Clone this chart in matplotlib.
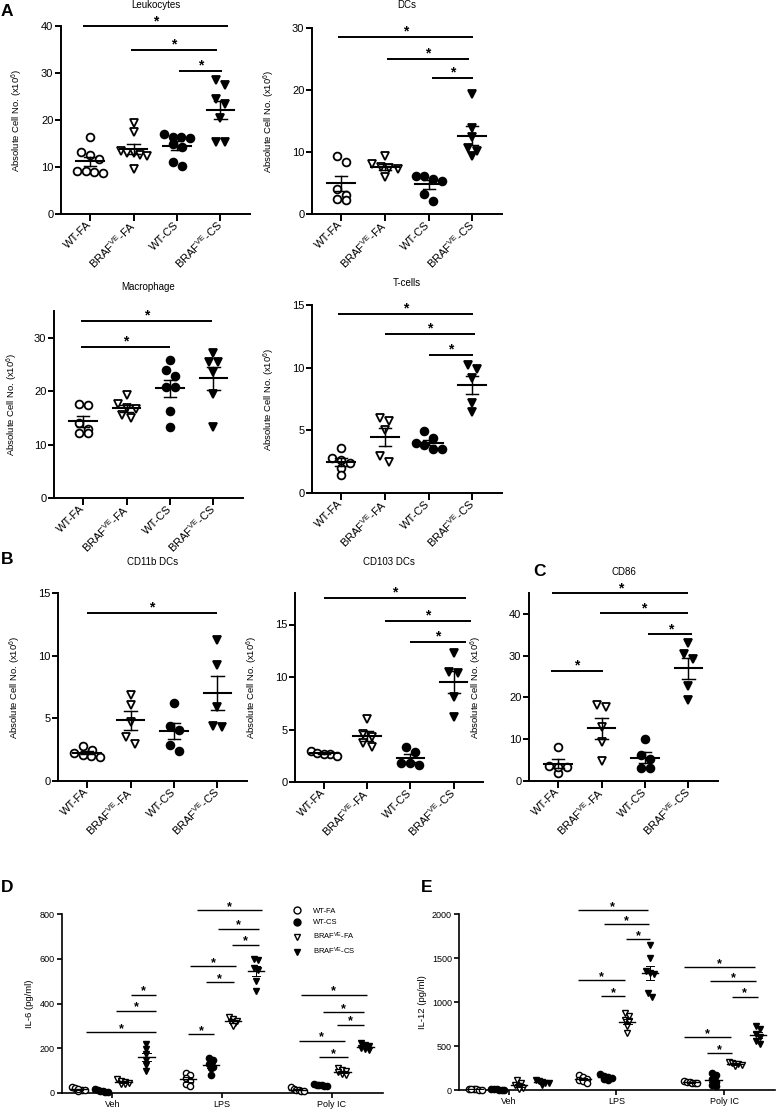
import numpy as np
import matplotlib
matplotlib.use('Agg')
import matplotlib.pyplot as plt
from matplotlib.lines import Line2D

plt.rcParams['font.family'] = ['Liberation Sans', 'DejaVu Sans']
plt.rcParams['mathtext.fontset'] = 'custom'
plt.rcParams['mathtext.rm'] = 'Liberation Sans'
plt.rcParams['mathtext.it'] = 'Liberation Sans:italic'
plt.rcParams['mathtext.bf'] = 'Liberation Sans:bold'

# ---- data (absolute cell numbers, x10^6) ----
# order: WT-FA, BRAF-FA, WT-CS, BRAF-CS
cell_groups = ['WT-FA', 'BRAF$^{\\mathrm{VE}}$-FA', 'WT-CS', 'BRAF$^{\\mathrm{VE}}$-CS']

leukocytes = [[16.3, 13.2, 12.5, 11.8, 9.2, 9.0, 9.2, 8.7],
              [19.4, 17.4, 13.3, 13.0, 12.9, 12.6, 12.4, 9.5],
              [17.0, 16.1, 16.3, 16.3, 15.0, 14.3, 11.1, 10.3],
              [28.5, 27.4, 24.4, 23.3, 20.4, 15.4, 15.4]]
dcs = [[9.3, 8.4, 4.1, 3.1, 2.3, 2.4],
       [9.4, 8.0, 7.6, 7.5, 7.2, 6.0],
       [6.2, 5.4, 5.7, 6.2, 3.2, 2.1],
       [19.3, 13.8, 12.5, 10.7, 9.4, 10.1]]
macrophage = [[17.4, 17.5, 14.0, 12.9, 12.1, 12.1],
              [19.3, 16.8, 16.6, 17.5, 15.6, 14.9],
              [25.8, 22.8, 24.0, 20.7, 20.7, 16.2, 13.3],
              [25.5, 27.2, 25.5, 23.6, 19.4, 13.3]]
tcells = [[3.6, 2.8, 2.65, 2.4, 2.0, 1.4],
          [6.0, 5.75, 5.0, 2.5, 2.95],
          [4.95, 4.4, 4.0, 3.5, 3.5, 3.8],
          [10.2, 9.9, 9.2, 7.2, 6.5]]
cd11b = [[2.8, 2.5, 2.0, 2.1, 2.2, 1.95],
         [6.9, 6.1, 4.7, 2.95, 3.5],
         [6.2, 4.1, 4.4, 2.4, 2.9],
         [11.25, 9.25, 5.9, 4.3, 4.4]]
cd103 = [[2.65, 2.94, 2.7, 2.8, 2.5],
         [6.0, 4.3, 4.6, 3.3, 3.7],
         [3.3, 2.9, 1.65, 1.8, 1.8],
         [12.3, 10.4, 10.5, 8.1, 6.2]]
cd86 = [[8.25, 1.9, 3.65, 3.3, 3.3],
        [18.3, 17.8, 12.9, 9.4, 4.7],
        [10.1, 5.2, 6.3, 3.1, 3.1],
        [33.0, 29.3, 30.3, 22.7, 19.4]]

# significance bars: (x start, x end, height)
leuk_sig = [(-0.16, 3.17, 39.9), (0.94, 2.92, 35.0), (2.05, 3.03, 30.4)]
dcs_sig = [(-0.07, 3.02, 28.5), (1.04, 2.92, 25.0), (2.07, 3.02, 21.9)]
macro_sig = [(-0.05, 2.97, 33.1), (-0.05, 1.99, 28.3)]
tcells_sig = [(-0.07, 3.02, 14.3), (0.99, 3.07, 12.7), (2.0, 3.02, 11.0)]
cd11b_sig = [(0.0, 2.98, 13.4)]
cd103_sig = [(0.0, 3.28, 17.5), (1.41, 3.40, 15.3), (2.0, 3.28, 13.3)]
cd86_sig = [(-0.14, 3.0, 44.9), (0.96, 3.0, 40.1), (2.08, 3.09, 35.1), (-0.16, 1.03, 26.3)]

# ---- cytokines (pg/ml) ----
# order: WT-FA, WT-CS, BRAF-FA, BRAF-CS
cyto_groups = ['WT-FA', 'WT-CS', 'BRAF$^{\\mathrm{VE}}$-FA', 'BRAF$^{\\mathrm{VE}}$-CS']
conditions = ['Veh', 'LPS', 'Poly IC']

il6_veh = [[28, 22, 15, 12, 8, 18], [18, 12, 8, 5, 3, 10],
           [62, 55, 50, 45, 40, 38], [220, 198, 176, 149, 127, 100]]
il6_lps = [[90, 80, 68, 55, 40, 30], [155, 148, 130, 118, 110, 80],
           [338, 330, 322, 318, 312, 300], [600, 595, 560, 548, 500, 458]]
il6_polyic = [[25, 20, 15, 12, 10, 8], [38, 36, 35, 34, 33, 32],
              [110, 105, 98, 92, 85, 80], [225, 215, 208, 200, 195, 190]]

il12_veh = [[15, 10, 8, 5, 3, 12], [8, 6, 5, 4, 3, 7],
            [115, 80, 60, 40, 20, 10], [115, 105, 95, 85, 75, 60]]
il12_lps = [[175, 150, 130, 115, 100, 85], [180, 160, 145, 135, 125, 110],
            [870, 840, 800, 780, 730, 650], [1650, 1500, 1350, 1330, 1320, 1100, 1060]]
il12_polyic = [[100, 95, 90, 85, 80, 75], [190, 165, 120, 90, 60, 40],
               [320, 310, 300, 290, 280, 270], [725, 690, 640, 600, 560, 520]]

il6_sig = [(0.17, 0.40, 440), (0.03, 0.40, 368), (-0.24, 0.40, 273),
           (0.77, 1.37, 817), (0.96, 1.34, 735), (1.09, 1.34, 663),
           (0.71, 1.13, 566), (0.85, 1.11, 496), (0.69, 0.93, 264),
           (1.72, 2.32, 440), (1.92, 2.30, 362), (2.05, 2.30, 306),
           (1.70, 2.12, 234), (1.89, 2.15, 161)]
il12_sig = [(0.64, 1.29, 2042), (0.88, 1.30, 1890), (1.09, 1.31, 1712),
            (0.64, 1.08, 1250), (0.86, 1.08, 1068),
            (1.63, 2.28, 1394), (1.87, 2.29, 1239), (2.07, 2.31, 1061),
            (1.63, 2.06, 598), (1.84, 2.07, 424)]

W, H = 776, 1112
fig = plt.figure(figsize=(W / 100, H / 100), dpi=100)


def px_axes(left, right, top, bottom):
    return fig.add_axes([left / W, 1 - bottom / H, (right - left) / W, (bottom - top) / H])


def ftext(x, y, s, **kw):
    fig.text(x / W, 1 - y / H, s, **kw)


def swarm(ax, vals, step_px, span_px, tol_px):
    # GraphPad-like scatter: points with close values share a row
    x0, x1 = ax.get_xlim()
    y0, y1 = ax.get_ylim()
    ppx = ax.bbox.width / (x1 - x0)
    ppy = ax.bbox.height / (y1 - y0)
    order = np.argsort(vals)[::-1]
    rows, cur = [], []
    for i in order:
        if cur and (vals[cur[0]] - vals[i]) * ppy > tol_px:
            rows.append(cur)
            cur = []
        cur.append(i)
    rows.append(cur)
    off = np.zeros(len(vals))
    for row in rows:
        n = len(row)
        step = step_px if n < 2 else min(step_px, span_px / (n - 1))
        for k, i in enumerate(row):
            off[i] = (k - (n - 1) / 2) * step / ppx
    return off


def style(ax, lw, fs, tlen):
    for s in ['top', 'right']:
        ax.spines[s].set_visible(False)
    for s in ['left', 'bottom']:
        ax.spines[s].set_linewidth(lw)
    ax.tick_params(width=lw, length=tlen, labelsize=fs, pad=1.5)


def draw_sig(ax, bars, lw, fs, dy):
    for x0, x1, y in bars:
        ax.plot([x0, x1], [y, y], color='black', lw=lw, clip_on=False, solid_capstyle='butt')
        ax.annotate('*', ((x0 + x1) / 2, y), xytext=(0, dy), textcoords='offset points',
                    ha='center', va='baseline', fontsize=fs, fontweight='bold',
                    annotation_clip=False)


def mean_sem(ax, x, vals, half, cap, lw):
    m = np.mean(vals)
    sem = np.std(vals, ddof=1) / np.sqrt(len(vals))
    ax.plot([x - half, x + half], [m, m], color='black', lw=lw, zorder=4)
    ax.plot([x, x], [m - sem, m + sem], color='black', lw=lw * 0.7, zorder=4)
    for v in (m - sem, m + sem):
        ax.plot([x - cap, x + cap], [v, v], color='black', lw=lw * 0.7, zorder=4)


cell_styles = [('o', 'white'), ('v', 'white'), ('o', 'black'), ('v', 'black')]
cyto_styles = [('o', 'white'), ('o', 'black'), ('v', 'white'), ('v', 'black')]


def cell_panel(box, data, ymax, yticks, title, title_y, ylab_x, sig):
    ax = px_axes(*box)
    ax.set_xlim(-0.67, 3.68)
    ax.set_ylim(0, ymax)
    style(ax, 1.4, 8, 4)
    for i, vals in enumerate(data):
        vals = np.array(vals, dtype=float)
        off = swarm(ax, vals, 9, 26, 7)
        mk, fc = cell_styles[i]
        ax.plot(i + off, vals, ls='none', marker=mk, mfc=fc, mec='black',
                ms=5.6 if mk == 'o' else 6.0, mew=1.3, clip_on=False, zorder=3)
        mean_sem(ax, i, vals, 0.32, 0.14, 1.5)
    ax.set_xticks(range(4))
    ax.set_xticklabels(cell_groups, rotation=45, ha='right', va='center',
                       rotation_mode='anchor')
    ax.tick_params(axis='x', length=5)
    ax.set_yticks(yticks)
    left, right, top, bottom = box
    ftext((left + right) / 2, title_y, title, ha='center', va='center', fontsize=7)
    ftext(ylab_x, (top + bottom) / 2, 'Absolute Cell No. (x10$^{6}$)', rotation=90,
          ha='center', va='center', fontsize=6.8)
    draw_sig(ax, sig, 1.4, 10, 1)
    return ax


def cyto_panel(box, conds, ymax, yticks, ylabel, ylab_x, sig):
    ax = px_axes(*box)
    ax.set_xlim(-0.46, 2.47)
    ax.set_ylim(0, ymax)
    style(ax, 1.2, 6.5, 3.5)
    sub = [-0.31, -0.10, 0.10, 0.31]
    for g, cond in enumerate(conds):
        for k, vals in enumerate(cond):
            vals = np.array(vals, dtype=float)
            off = swarm(ax, vals, 4, 13, 4)
            mk, fc = cyto_styles[k]
            ax.plot(g + sub[k] + off, vals, ls='none', marker=mk, mfc=fc, mec='black',
                    ms=4.5 if mk == 'o' else 5.0, mew=1.0, clip_on=False, zorder=3)
            mean_sem(ax, g + sub[k], vals, 0.075, 0.04, 1.0)
    ax.set_xticks(range(3))
    ax.set_xticklabels(conditions)
    ax.set_yticks(yticks)
    top, bottom = box[2], box[3]
    ftext(ylab_x, (top + bottom) / 2, ylabel, rotation=90, ha='center', va='center', fontsize=6.8)
    draw_sig(ax, sig, 1.0, 9, 0)
    return ax


cell_panel((61, 250, 26, 214), leukocytes, 40, [0, 10, 20, 30, 40], 'Leukocytes', 5, 17, leuk_sig)
cell_panel((312, 502, 28, 214), dcs, 30, [0, 10, 20, 30], 'DCs', 5, 269, dcs_sig)
cell_panel((54, 243, 311, 498), macrophage, 35, [0, 10, 20, 30], 'Macrophage', 287, 12, macro_sig)
cell_panel((312, 502, 305, 493), tcells, 15, [0, 5, 10, 15], 'T-cells', 283, 269, tcells_sig)
cell_panel((58, 247, 593, 781), cd11b, 15, [0, 5, 10, 15], 'CD11b DCs', 562, 15, cd11b_sig)
cell_panel((295, 483, 593, 782), cd103, 18, [0, 5, 10, 15], 'CD103 DCs', 562, 252, cd103_sig)
cell_panel((529, 718, 593, 781), cd86, 45, [0, 10, 20, 30, 40], 'CD86', 572, 476, cd86_sig)

axd = cyto_panel((62, 383, 914, 1093), [il6_veh, il6_lps, il6_polyic], 800,
                 [0, 200, 400, 600, 800], 'IL-6 (pg/ml)', 30, il6_sig)
cyto_panel((459, 775, 914, 1090), [il12_veh, il12_lps, il12_polyic], 2000,
           [0, 500, 1000, 1500, 2000], 'IL-12 (pg/ml)', 423, il12_sig)

handles = [Line2D([], [], ls='none', marker=mk, mfc=fc, mec='black', ms=5, mew=1)
           for mk, fc in cyto_styles]
axd.legend(handles, cyto_groups, loc='upper left', bbox_to_anchor=(0.72, 1.036),
           frameon=False, fontsize=5.5, handlelength=1.0, handletextpad=1.6,
           labelspacing=0.55, borderpad=0, borderaxespad=0)

for letter, x, y in [('A', 1, 11), ('B', 1, 560), ('C', 533, 571), ('D', 1, 887), ('E', 421, 887)]:
    ftext(x, y, letter, ha='left', va='center', fontsize=12.5, fontweight='bold')

fig.savefig('out.png', dpi=100)
